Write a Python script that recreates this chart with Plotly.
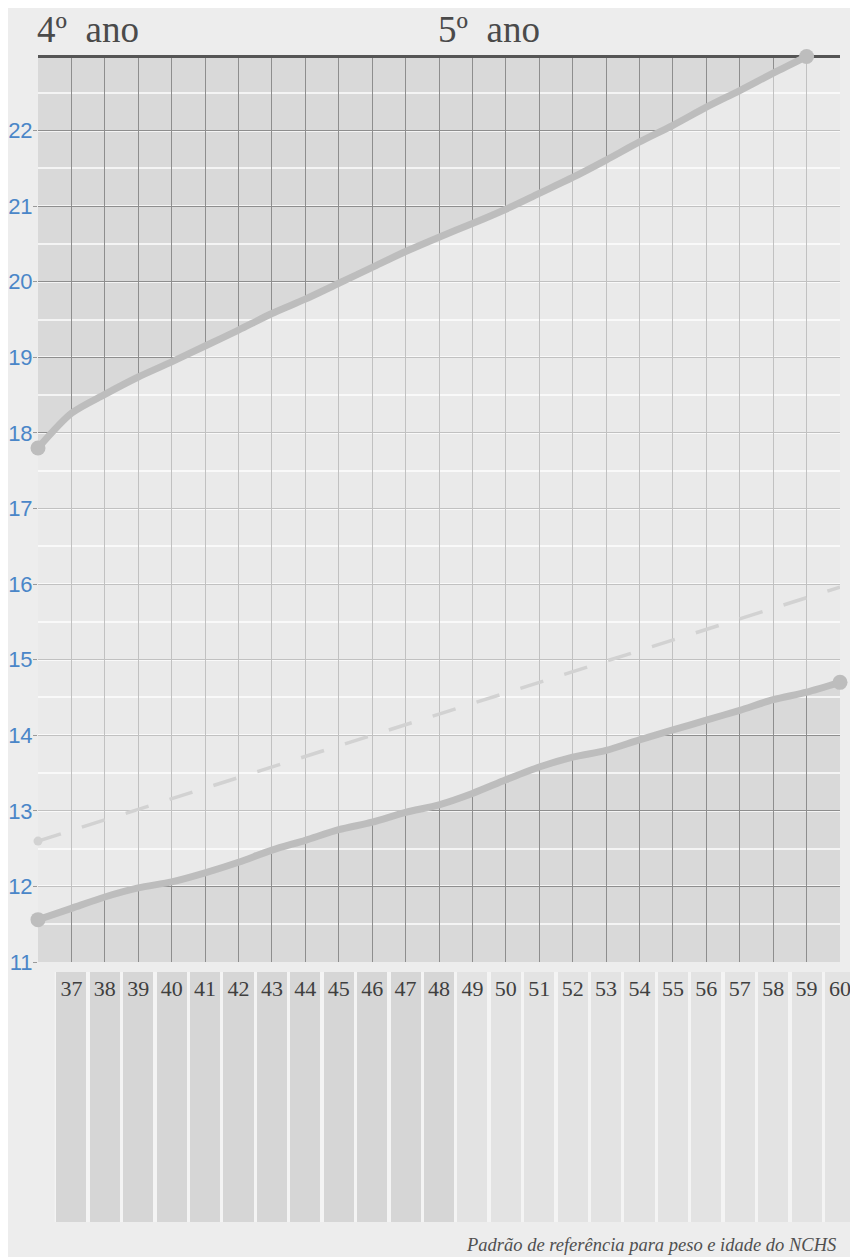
import plotly.graph_objects as go

# ---------------- data ----------------
months_upper = list(range(36, 60))
upper = [17.80, 18.26, 18.51, 18.74, 18.94, 19.15, 19.36, 19.58, 19.77, 19.98,
         20.19, 20.40, 20.59, 20.77, 20.96, 21.17, 21.38, 21.61, 21.85, 22.07,
         22.31, 22.53, 22.76, 22.98]
months_lower = list(range(36, 61))
lower = [11.56, 11.71, 11.86, 11.98, 12.06, 12.18, 12.32, 12.48, 12.61, 12.75,
         12.85, 12.98, 13.08, 13.23, 13.41, 13.58, 13.71, 13.80, 13.94, 14.07,
         14.20, 14.33, 14.47, 14.57, 14.70]
months_dash = [36, 60]
dashed = [12.60, 15.96]

month_labels = list(range(37, 61))
column_shade = ["dark"] * 12 + ["light"] * 12
y_ticks = list(range(11, 23))
year_labels = ["4º\u00a0\u00a0ano", "5º\u00a0\u00a0ano"]
year_starts = [36, 48]
footer = "Padrão de referência para peso e idade do NCHS"

Y_MIN, Y_MAX = 11, 23
X_MIN, X_MAX = 36, 60

# ---------------- layout geometry (page body has an 8px margin) ----------------
W, H = 858, 1257
OFF = 8
PX_L, PX_R = 38 - OFF, 840 - OFF
PX_T, PX_B = 55 - OFF, 962 - OFF
px_per_month = (PX_R - PX_L) / (X_MAX - X_MIN)
BAR_T, BAR_B = 972 - OFF, 1222 - OFF

CURVE = "#bdbdbd"
DASH = "#d2d2d2"
PAGE = "#ededed"

fig = go.Figure()

# light band between the two curves (semi-transparent so grid shows lighter)
fig.add_trace(go.Scatter(x=months_lower, y=lower, mode="lines",
                         line=dict(width=0, shape="spline", smoothing=0.8),
                         hoverinfo="skip", showlegend=False))
fig.add_trace(go.Scatter(x=months_upper + [X_MAX], y=upper + [Y_MAX], mode="lines",
                         line=dict(width=0), fill="tonexty",
                         fillcolor="rgba(255,255,255,0.45)",
                         hoverinfo="skip", showlegend=False))

# heavy top rule of the chart
fig.add_trace(go.Scatter(x=[X_MIN, X_MAX], y=[Y_MAX, Y_MAX], mode="lines",
                         line=dict(color="#555555", width=6),
                         hoverinfo="skip", showlegend=False, cliponaxis=False))

# dashed reference line
fig.add_trace(go.Scatter(x=months_dash, y=dashed, mode="lines",
                         line=dict(color=DASH, width=3.5, dash="24px,22px"),
                         showlegend=False, cliponaxis=False))
fig.add_trace(go.Scatter(x=months_dash[:1], y=dashed[:1], mode="markers",
                         marker=dict(color=DASH, size=9),
                         showlegend=False, cliponaxis=False))

# curves
for xs, ys in [(months_upper, upper), (months_lower, lower)]:
    fig.add_trace(go.Scatter(x=xs, y=ys, mode="lines",
                             line=dict(color=CURVE, width=7, shape="spline", smoothing=0.8),
                             showlegend=False, cliponaxis=False))
    fig.add_trace(go.Scatter(x=[xs[0], xs[-1]], y=[ys[0], ys[-1]], mode="markers",
                             marker=dict(color=CURVE, size=15),
                             showlegend=False, cliponaxis=False))

# columns under the month labels
col_colors = ["#d6d6d6" if s == "dark" else "#e3e3e3" for s in column_shade]
fig.add_trace(go.Bar(x=month_labels, y=[1] * len(month_labels), width=0.9,
                     marker=dict(color=col_colors, line=dict(width=0)),
                     xaxis="x2", yaxis="y2", showlegend=False, hoverinfo="skip"))

x2_max = X_MIN + (W - PX_L) / px_per_month

fig.update_layout(
    template="none",
    width=W, height=H,
    margin=dict(l=0, r=0, t=0, b=0, pad=0),
    paper_bgcolor=PAGE,
    plot_bgcolor=PAGE,
    bargap=0,
    xaxis=dict(domain=[PX_L / W, PX_R / W], range=[X_MIN, X_MAX], automargin=False,
               dtick=1, tick0=36, showgrid=True, gridcolor="#8e8e8e", gridwidth=1,
               showticklabels=False, ticks="", zeroline=False, showline=False),
    yaxis=dict(domain=[1 - PX_B / H, 1 - PX_T / H], range=[Y_MIN, Y_MAX], automargin=False,
               tickvals=y_ticks, showgrid=True, gridcolor="#8e8e8e", gridwidth=1,
               minor=dict(dtick=0.5, tick0=11, showgrid=True, gridcolor="#f4f4f4",
                          gridwidth=2, ticks=""),
               ticks="outside", ticklen=4, tickcolor="#9a9a9a", tickwidth=1,
               ticklabelstandoff=-4,
               tickfont=dict(family="Liberation Sans", size=22, color="#4a86c8"),
               zeroline=False, showline=False),
    xaxis2=dict(domain=[PX_L / W, 1], range=[X_MIN, x2_max], anchor="y2", automargin=False,
                side="top", ticklabelposition="inside", tickvals=month_labels,
                ticklabelstandoff=6,
                ticks="", showgrid=False, zeroline=False, showline=False,
                tickfont=dict(family="Liberation Serif", size=22, color="#3f3f3f")),
    yaxis2=dict(domain=[1 - BAR_B / H, 1 - BAR_T / H], range=[0, 1], anchor="x2",
                automargin=False, showticklabels=False, showgrid=False,
                zeroline=False, ticks=""),
)

# shaded chart background (below gridlines)
fig.add_shape(type="rect", xref="x domain", yref="y domain", x0=0, x1=1, y0=0, y1=1,
              fillcolor="#d9d9d9", line=dict(width=0), layer="below")
# whitish backing for the gaps between the month columns
fig.add_shape(type="rect", xref="x2", yref="y2 domain", x0=month_labels[0] - 0.5,
              x1=x2_max, y0=0, y1=1,
              fillcolor="#f4f4f4", line=dict(width=0), layer="below")

for lab, xs in zip(year_labels, year_starts):
    fig.add_annotation(x=xs, y=Y_MAX, xref="x", yref="y", text=lab, showarrow=False,
                       xanchor="left", yanchor="bottom", yshift=3, xshift=-3,
                       font=dict(family="Liberation Serif", size=37, color="#4a4a4a"))

fig.add_annotation(x=(838 - OFF) / W, y=(H - (1245 - OFF)) / H, xref="paper", yref="paper",
                   text="<i>" + footer + "</i>",
                   showarrow=False, xanchor="right", yanchor="middle",
                   font=dict(family="Liberation Serif", size=18.5, color="#505050"))

fig.write_html("out.html")
